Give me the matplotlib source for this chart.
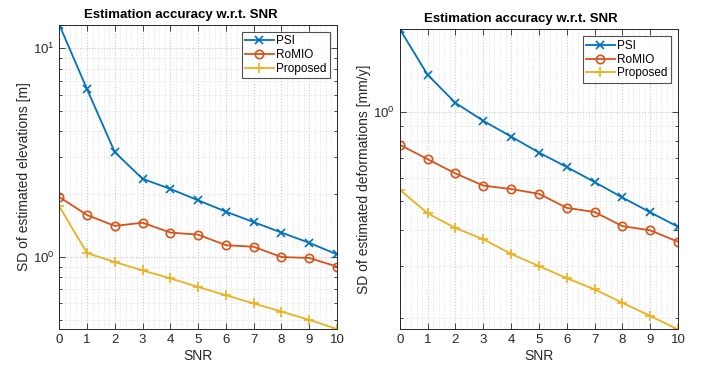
import matplotlib
matplotlib.use("Agg")
import matplotlib.pyplot as plt
from matplotlib.ticker import MultipleLocator, LogLocator, NullFormatter

plt.rcParams['font.family'] = ['Liberation Sans', 'DejaVu Sans']
plt.rcParams['mathtext.fontset'] = 'custom'
plt.rcParams['mathtext.rm'] = 'Liberation Sans'

snr = list(range(11))
xtick_labels = [str(v) for v in snr]

# Left panel: elevations [m]
psi_elev = [12.98, 6.37, 3.18, 2.37, 2.12, 1.87, 1.65, 1.47, 1.31, 1.17, 1.03]
romio_elev = [1.94, 1.59, 1.41, 1.46, 1.31, 1.28, 1.14, 1.12, 1.00, 0.99, 0.90]
prop_elev = [1.75, 1.045, 0.946, 0.863, 0.790, 0.719, 0.656, 0.599, 0.548, 0.500, 0.452]

# Right panel: deformations [mm/y]
psi_def = [1.91, 1.338, 1.075, 0.935, 0.827, 0.730, 0.652, 0.580, 0.514, 0.458, 0.409]
romio_def = [0.775, 0.693, 0.620, 0.564, 0.549, 0.529, 0.474, 0.459, 0.411, 0.398, 0.364]
prop_def = [0.546, 0.454, 0.405, 0.371, 0.331, 0.301, 0.274, 0.251, 0.226, 0.204, 0.1835]

series_names = ["PSI", "RoMIO", "Proposed"]
colors = ["#0072BD", "#D95319", "#EDB120"]
markers = ["x", "o", "+"]
msizes = {"x": 5.5, "o": 6, "+": 6.5}

title = "Estimation accuracy w.r.t. SNR"
axc = "#262626"

fig = plt.figure(figsize=(7.04, 3.65), dpi=100)
ax1 = fig.add_axes([0.0842, 0.0986, 0.3945, 0.8337])
ax2 = fig.add_axes([0.568, 0.0973, 0.395, 0.8225])

panels = [
    (ax1, [psi_elev, romio_elev, prop_elev], "SD of estimated elevations [m]"),
    (ax2, [psi_def, romio_def, prop_def], "SD of estimated deformations [mm/y]"),
]

for ax, data, ylabel in panels:
    for vals, name, c, m in zip(data, series_names, colors, markers):
        ax.plot(snr, vals, color=c, marker=m, markersize=msizes[m],
                markerfacecolor="none", markeredgecolor=c, markeredgewidth=1.2,
                linewidth=1.3, label=name)
    ax.set_yscale("log")
    allv = [v for s in data for v in s]
    ax.set_ylim(min(allv), max(allv))
    ax.set_xlim(0, 10)
    ax.set_xticks(snr)
    ax.set_xticklabels(xtick_labels)
    ax.xaxis.set_minor_locator(MultipleLocator(0.2))
    ax.yaxis.set_major_locator(LogLocator(base=10))
    ax.yaxis.set_minor_locator(LogLocator(base=10, subs=range(2, 10)))
    ax.yaxis.set_minor_formatter(NullFormatter())
    ax.grid(True, which="major", color="#c8c8c8", linestyle=":", linewidth=0.8)
    ax.grid(True, which="minor", color="#dcdcdc", linestyle=":", linewidth=0.6)
    ax.set_axisbelow(True)
    ax.tick_params(which="both", direction="in", top=True, right=True,
                   colors=axc, labelsize=9.5, labelcolor=axc)
    ax.tick_params(which="major", length=4, width=0.6)
    ax.tick_params(axis="y", which="minor", length=2.5, width=0.6)
    ax.tick_params(axis="x", which="minor", length=0)
    for sp in ax.spines.values():
        sp.set_color(axc)
        sp.set_linewidth(0.7)
    ax.set_xlabel("SNR", fontsize=10, color=axc, labelpad=2)
    ax.set_ylabel(ylabel, fontsize=10, color=axc)
    ax.set_title(title, fontsize=9.5, fontweight="bold", color="black", pad=5, x=0.436)
    leg = ax.legend(loc="upper right", fontsize=8.5, frameon=True, fancybox=False,
                    edgecolor=axc, borderpad=0.3, labelspacing=0.15,
                    handlelength=2.4, handletextpad=0.2, borderaxespad=0.6)
    leg.get_frame().set_linewidth(0.8)

ax1.yaxis.set_label_coords(-0.102, 0.5)
ax2.yaxis.set_label_coords(-0.104, 0.5)

fig.savefig("out.png", dpi=100)
